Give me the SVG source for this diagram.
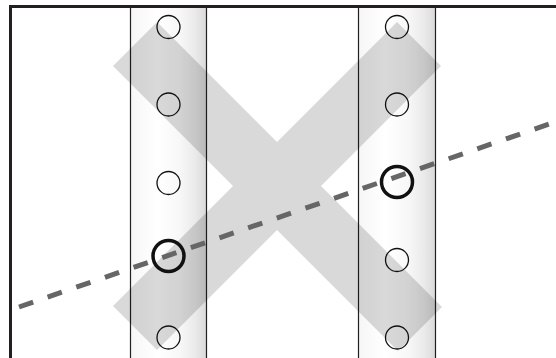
<svg xmlns="http://www.w3.org/2000/svg" width="556" height="358" viewBox="0 0 556 358">
  <defs>
    <linearGradient id="colFill" x1="0" y1="0" x2="1" y2="0">
      <stop offset="0" stop-color="#f6f6f6"/>
      <stop offset="0.35" stop-color="#ffffff"/>
      <stop offset="0.65" stop-color="#f7f7f7"/>
      <stop offset="0.85" stop-color="#eaeaea"/>
      <stop offset="1" stop-color="#d8d8d8"/>
    </linearGradient>
  </defs>
  <style>
    .frame { fill: none; stroke: #231f20; stroke-width: 3; }
    .col { fill: url(#colFill); }
    .colEdge { stroke: #231f20; stroke-width: 1.2; }
    .cross { fill: #000000; fill-opacity: 0.15; }
    .site { fill: none; stroke: #111111; stroke-width: 1.3; }
    .site.hit { stroke-width: 3.5; }
    .track { fill: none; stroke: #666666; stroke-width: 5; stroke-dasharray: 15 15.3; }
  </style>

  <rect width="556" height="358" fill="#ffffff"/>

  <!-- columns -->
  <g id="column-left">
    <rect class="col" x="130" y="6" width="77" height="352"/>
    <line class="colEdge" x1="130.5" y1="6" x2="130.5" y2="358"/>
    <line class="colEdge" x1="206.5" y1="6" x2="206.5" y2="358"/>
  </g>
  <g id="column-right">
    <rect class="col" x="358" y="6" width="78" height="352"/>
    <line class="colEdge" x1="358.5" y1="6" x2="358.5" y2="358"/>
    <line class="colEdge" x1="435.5" y1="6" x2="435.5" y2="358"/>
  </g>

  <!-- crossing bands -->
  <g id="cross">
    <path class="cross" d="M113,66 L157,22 L442,307 L398,351 Z M397,22 L441,66 L157,350 L113,306 Z"/>
  </g>

  <!-- sites -->
  <g id="sites-left">
    <circle class="site" cx="168.5" cy="27" r="11.5"/>
    <circle class="site" cx="168.5" cy="104.5" r="11.5"/>
    <circle class="site" cx="168.5" cy="183" r="11.5"/>
    <circle class="site hit" cx="168.5" cy="256" r="15.5"/>
    <circle class="site" cx="168.5" cy="337.5" r="11.5"/>
  </g>
  <g id="sites-right">
    <circle class="site" cx="397" cy="27" r="11.5"/>
    <circle class="site" cx="397" cy="104.5" r="11.5"/>
    <circle class="site hit" cx="397" cy="182" r="15.5"/>
    <circle class="site" cx="397" cy="260" r="11.5"/>
    <circle class="site" cx="397" cy="337.5" r="11.5"/>
  </g>

  <!-- connectors -->
  <g id="connectors">
    <line class="track" x1="19" y1="307" x2="556" y2="121.7"/>
  </g>

  <!-- frame -->
  <g id="frame">
    <path class="frame" d="M10.5,358 L10.5,6.5 L556,6.5"/>
  </g>
</svg>
